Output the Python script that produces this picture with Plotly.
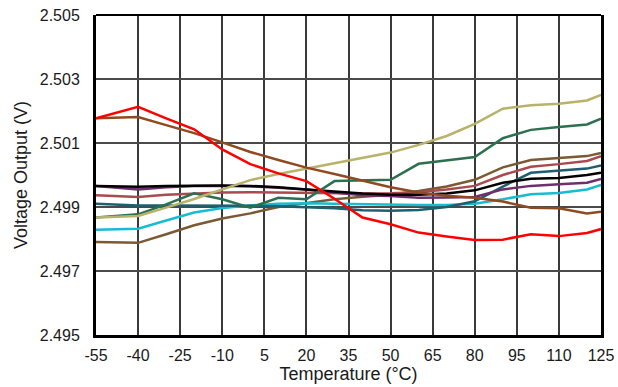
import plotly.graph_objects as go

# temperatures (degC) where each unit was measured
temps = [-55, -40, -30, -20, -10, 0, 10, 20, 30, 40, 50, 60, 70, 80, 90, 100, 110, 120, 125]

# output voltage of each unit (V)
unit_red = [2.50177, 2.50213, 2.50177, 2.50143, 2.50080, 2.50034, 2.50005, 2.49981, 2.49926, 2.49867,
            2.49846, 2.49820, 2.49808, 2.49797, 2.49798, 2.49815, 2.49809, 2.49819, 2.49831]
unit_sienna = [2.50177, 2.50181, 2.50156, 2.50131, 2.50102, 2.50072, 2.50047, 2.50023, 2.50003, 2.49983,
               2.49962, 2.49945, 2.49935, 2.49929, 2.49917, 2.49898, 2.49896, 2.49880, 2.49885]
unit_khaki = [2.49867, 2.49872, 2.49898, 2.49925, 2.49955, 2.49984, 2.50003, 2.50020, 2.50037, 2.50053,
              2.50070, 2.50094, 2.50122, 2.50160, 2.50207, 2.50218, 2.50223, 2.50233, 2.50250]
unit_green = [2.49867, 2.49877, 2.49908, 2.49943, 2.49924, 2.49898, 2.49929, 2.49924, 2.49981, 2.49983,
              2.49985, 2.50035, 2.50045, 2.50056, 2.50115, 2.50141, 2.50150, 2.50158, 2.50176]
unit_black = [2.49966, 2.49963, 2.49966, 2.49967, 2.49967, 2.49966, 2.49962, 2.49955, 2.49948, 2.49942,
              2.49938, 2.49938, 2.49942, 2.49952, 2.49976, 2.49988, 2.49991, 2.50000, 2.50007]
unit_purple = [2.49966, 2.49955, 2.49962, 2.49966, 2.49966, 2.49965, 2.49960, 2.49955, 2.49945, 2.49937,
               2.49934, 2.49929, 2.49930, 2.49931, 2.49955, 2.49966, 2.49971, 2.49976, 2.49988]
unit_rose = [2.49937, 2.49931, 2.49938, 2.49942, 2.49945, 2.49946, 2.49945, 2.49943, 2.49942, 2.49942,
             2.49943, 2.49946, 2.49955, 2.49966, 2.50000, 2.50026, 2.50034, 2.50044, 2.50059]
unit_teal = [2.49910, 2.49905, 2.49905, 2.49905, 2.49905, 2.49904, 2.49902, 2.49900, 2.49896, 2.49890,
             2.49888, 2.49891, 2.49900, 2.49918, 2.49964, 2.50007, 2.50014, 2.50020, 2.50030]
unit_cyan = [2.49829, 2.49832, 2.49858, 2.49883, 2.49897, 2.49905, 2.49910, 2.49912, 2.49910, 2.49908,
             2.49907, 2.49906, 2.49906, 2.49910, 2.49924, 2.49940, 2.49944, 2.49955, 2.49969]
unit_brown = [2.49791, 2.49788, 2.49815, 2.49843, 2.49864, 2.49880, 2.49900, 2.49913, 2.49924, 2.49932,
              2.49938, 2.49950, 2.49964, 2.49985, 2.50024, 2.50047, 2.50053, 2.50059, 2.50069]

# axis ticks
x_ticks = [-55, -40, -25, -10, 5, 20, 35, 50, 65, 80, 95, 110, 125]
x_tick_text = ['-55', '-40', '-25', '-10', '5', '20', '35', '50', '65', '80', '95', '110', '125']
y_ticks = [2.495, 2.497, 2.499, 2.501, 2.503, 2.505]

series = [
    (unit_brown, '#7A5A32'),
    (unit_cyan, '#17BCD0'),
    (unit_teal, '#1D5F70'),
    (unit_rose, '#AA4A50'),
    (unit_purple, '#712E6C'),
    (unit_black, '#000000'),
    (unit_green, '#2B7150'),
    (unit_khaki, '#B8B26A'),
    (unit_sienna, '#8E4B22'),
    (unit_red, '#FF0000'),
]

font = 'Arial, Liberation Sans, sans-serif'

fig = go.Figure()
for vals, color in series:
    fig.add_trace(go.Scatter(x=temps, y=vals, mode='lines',
                             line=dict(color=color, width=2.5),
                             showlegend=False, hoverinfo='skip'))

fig.update_layout(
    width=618, height=387,
    margin=dict(l=96, r=17, t=15, b=52),
    paper_bgcolor='white', plot_bgcolor='white',
    font=dict(family=font, size=16, color='#1a1a1a'),
    xaxis=dict(
        range=[-55, 125], tickmode='array', tickvals=x_ticks, ticktext=x_tick_text,
        showgrid=True, gridcolor='#3a3a3a', gridwidth=1.5,
        showline=True, linecolor='black', linewidth=3,
        zeroline=False, ticks='', ticklabelstandoff=4, automargin=False,
        title=dict(text='Temperature (°C)', standoff=3, font=dict(size=18)),
    ),
    yaxis=dict(
        range=[2.495, 2.505], tickmode='array', tickvals=y_ticks,
        tickformat='.3f',
        showgrid=True, gridcolor='#4a4a4a', gridwidth=1.5,
        showline=True, linecolor='black', linewidth=3, mirror=True,
        zeroline=False, ticks='', ticklabelstandoff=10, automargin=False,
        title=dict(text='Voltage Output (V)', standoff=8, font=dict(size=18)),
    ),
    shapes=[dict(type='line', xref='paper', yref='paper', x0=0, x1=1, y0=1, y1=1,
                 line=dict(color='black', width=2))],
)

# the page body has a default 8px margin; drop it so the figure sits at 0,0
fig.write_html('out.html', config={'displayModeBar': False},
               post_script="document.body.style.margin='0';")
